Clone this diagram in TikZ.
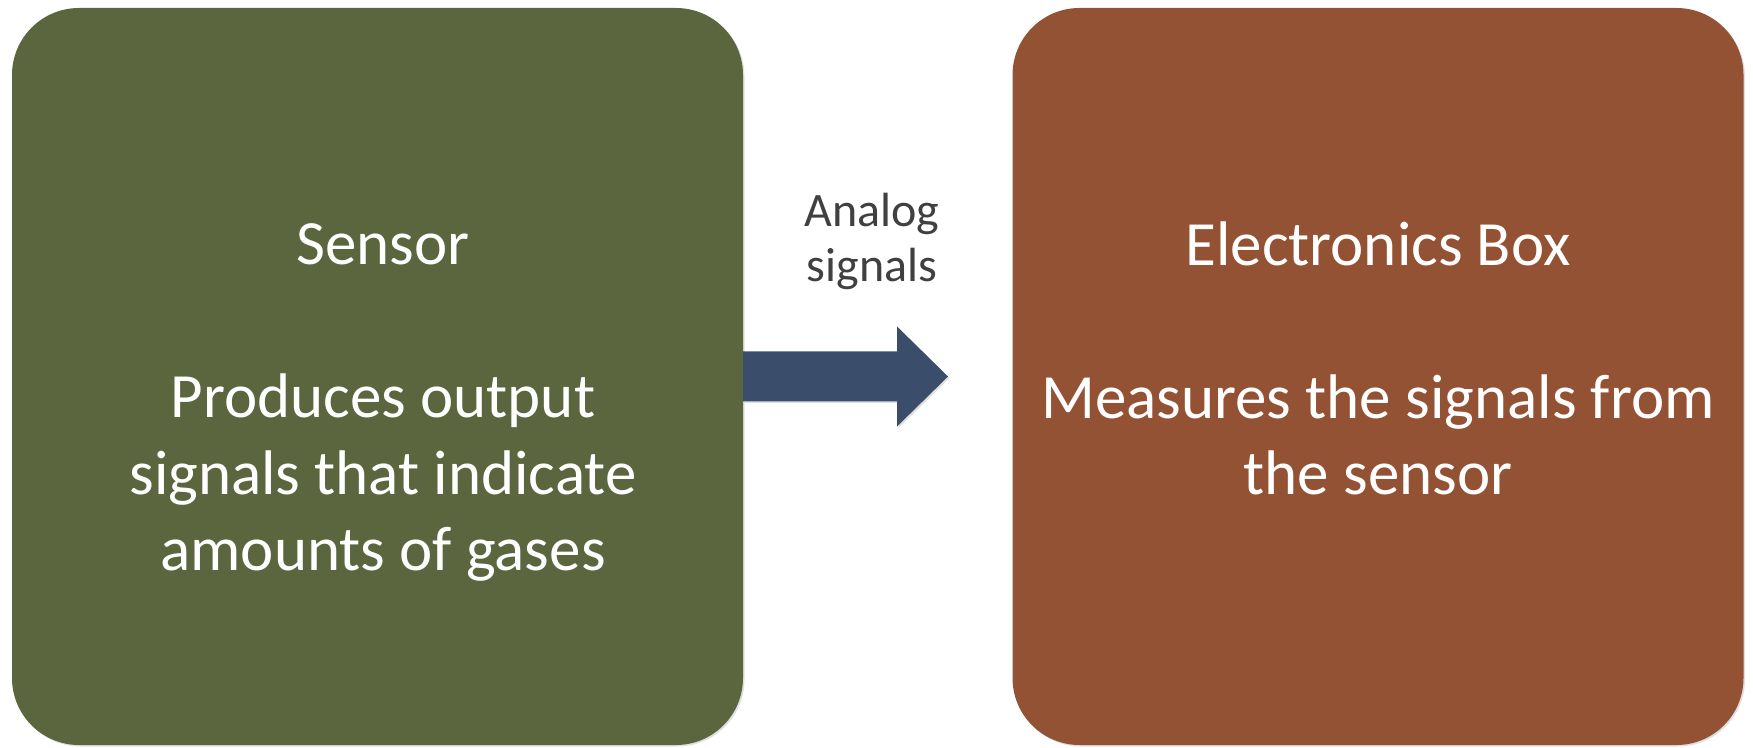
\documentclass[tikz,border=0pt]{standalone}
\usepackage{fontspec}
\setmainfont{Carlito}
\usetikzlibrary{shadows}
\definecolor{sensorgreen}{HTML}{5B663F}
\definecolor{boxbrown}{HTML}{945235}
\definecolor{arrowblue}{HTML}{3A4E6C}
\definecolor{labelgray}{HTML}{404040}

\begin{document}
\begin{tikzpicture}[x=1pt,y=1pt]
	\tikzstyle{block}=[rounded corners=67pt, minimum width=731pt, minimum height=737pt, inner sep=0pt, outer sep=0pt, drop shadow={shadow xshift=1.5pt, shadow yshift=-1.5pt, opacity=0.25}]
	\tikzstyle{blocktext}=[white, align=center, anchor=base, font=\fontsize{63}{76.5}\selectfont]
	\useasboundingbox (0,0) rectangle (1753,747);
	\node [block, fill=sensorgreen] (sensor) at (377.5,370.5) {};
	\node [block, fill=boxbrown] (ebox) at (1378,370.5) {};
	\node [blocktext] (sensortext) at (383,176) {Sensor\\[76.5pt]Produces output\\signals that indicate\\amounts of gases};
	\node [blocktext] (eboxtext) at (1378,252) {Electronics Box\\[76.5pt]Measures the signals from\\the sensor};
	\fill [arrowblue, drop shadow={shadow xshift=1.5pt, shadow yshift=-1.5pt, opacity=0.25}] ([yshift=25pt]sensor.east) -- ++(154,0) -- ++(0,25) -- ++(51,-50) -- ++(-51,-50) -- ++(0,25) -- ([yshift=-25pt]sensor.east) -- cycle;
	\node [labelgray, align=center, anchor=base, font=\fontsize{48}{55}\selectfont] (analog) at (872,465) {Analog\\signals};
\end{tikzpicture}
\end{document}
